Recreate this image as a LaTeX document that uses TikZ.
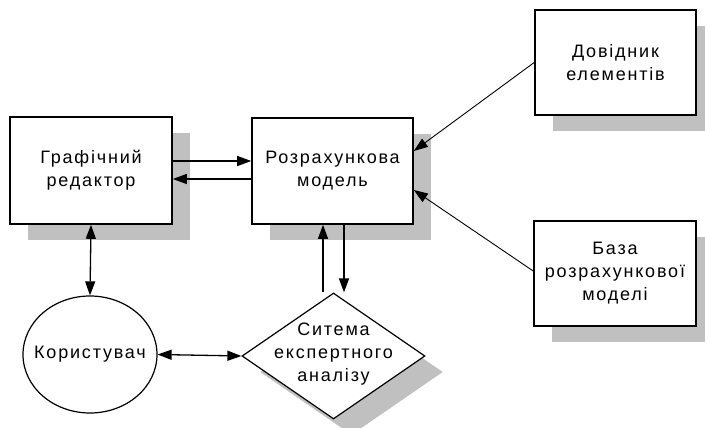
\documentclass[tikz,border=0pt]{standalone}
\usepackage{fontspec}
\setmainfont{Liberation Sans}[LetterSpace=10]
\usetikzlibrary{arrows.meta,shapes.geometric,shadows}
\definecolor{shadowgray}{RGB}{192,192,192}
\begin{document}
\begin{tikzpicture}[x=1pt,y=-1pt,
  lbl/.style={font=\fontsize{18}{23}\selectfont, align=center, inner sep=0pt},
  shad/.style={drop shadow={shadow xshift=18pt, shadow yshift=-16pt, fill=shadowgray, opacity=1}},
  boxnode/.style={rectangle, draw=black, line width=1.6pt, fill=white, shad, inner sep=0pt, lbl},
  conn/.style={line width=1.3pt, -{Triangle[length=14pt,width=10pt]}},
  dconn/.style={line width=1.3pt, {Triangle[length=14pt,width=10pt]}-{Triangle[length=14pt,width=10pt]}},
  diag/.style={line width=0.9pt, -{Triangle[length=14pt,width=10pt]}}]
\useasboundingbox (0,0) rectangle (705,428);
\node[boxnode, minimum width=162pt, minimum height=107pt] (b1) at (91,170.5) {Графічний\\редактор};
\node[boxnode, minimum width=161pt, minimum height=106pt] (b2) at (332.5,171) {Розрахункова\\модель};
\node[boxnode, minimum width=161pt, minimum height=105pt] (b3) at (615.5,62.5) {Довідник\\елементів};
\node[boxnode, minimum width=162pt, minimum height=105pt] (b4) at (615,273.5) {База\\розрахункової\\моделі};
\node[ellipse, draw=black, line width=1.2pt, fill=white, minimum width=134pt, minimum height=117pt, inner sep=0pt] (ell) at (90,354.5) {};
\node[lbl] (elltxt) at (ell.center) {Користувач};
\node[diamond, draw=black, line width=1.2pt, fill=white, shad, minimum width=183pt, minimum height=126pt, inner sep=0pt] (dia) at (333.5,356) {};
\node[lbl] (diatxt) at ([yshift=2pt]dia.center) {Ситема\\експертного\\аналізу};
% connectors
\draw[conn] ([yshift=9.5pt]b1.east) -- ([yshift=10pt]b2.west);
\draw[conn] ([yshift=-8pt]b2.west) -- ([yshift=-8.5pt]b1.east);
\draw[dconn] (b1.south) -- (ell.north);
\draw[dconn] (ell.east) -- (dia.west);
\draw[conn] ([xshift=-10.5pt]dia.north) -- ([xshift=-9.5pt]b2.south);
\draw[conn] ([xshift=11.5pt]b2.south) -- ([xshift=10.5pt]dia.north);
\draw[diag] (b3.west) -- ([yshift=20pt]b2.east);
\draw[diag] ([yshift=2.5pt]b4.west) -- ([yshift=-19pt]b2.east);
\end{tikzpicture}
\end{document}
